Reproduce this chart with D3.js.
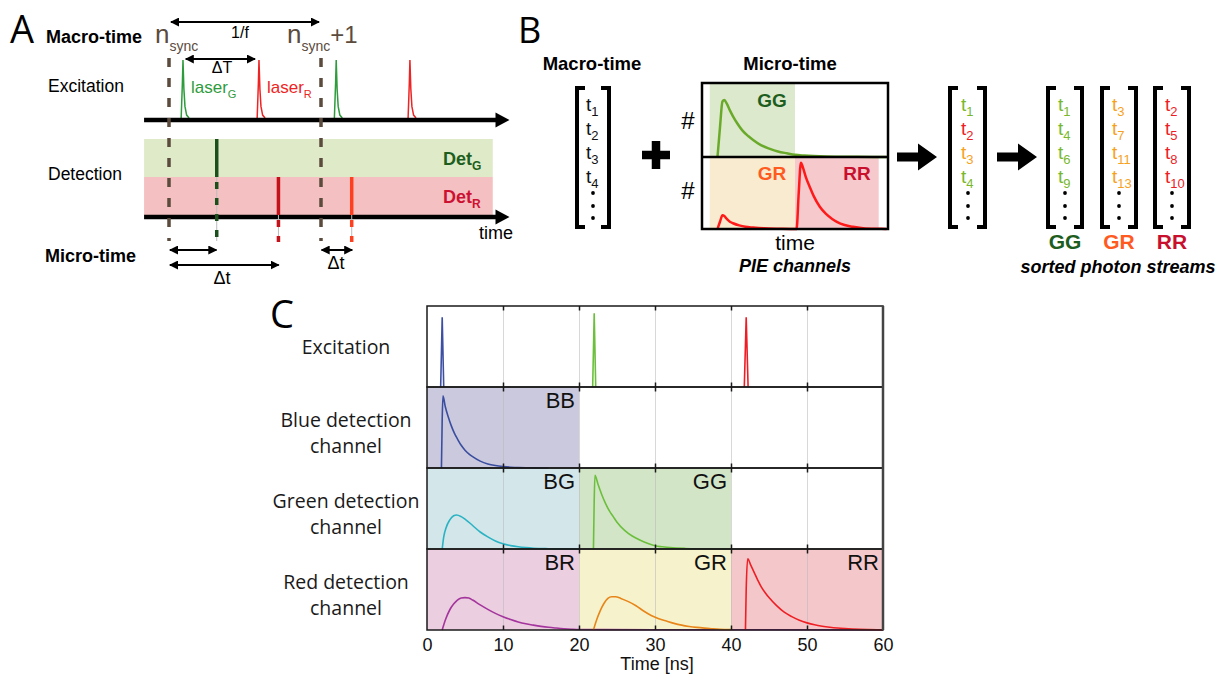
<!DOCTYPE html>
<html>
<head>
<meta charset="utf-8">
<script src="https://cdn.jsdelivr.net/npm/d3@7"></script>
<style>
  body { margin: 0; background: #fff; }
  svg { display: block; }
</style>
</head>
<body>
<div id="main"></div>
<script>
// ==============================================================
// DATA
// ==============================================================
// panel A, in units of the sync period (n_sync = 0, n_sync+1 = 100)
const syncMarks = [0, 100];
const laserPulses = [
  { t: 9.2, laser: "G" }, { t: 59.2, laser: "R" },
  { t: 110, laser: "G" }, { t: 158.5, laser: "R" }
];
const pulseShape = [[-1.2, 0], [-0.4, 0.6], [0, 1], [0.6, 0.5], [1.3, 0.2], [2.4, 0.05], [4, 0]];
const photons = [
  { t: 31.4, det: "G" }, { t: 72, det: "R" }, { t: 120.2, det: "R2" }
];
const periodArrow = [1.3, 98.7];
const delayArrow = [11, 56.6];
const microArrows = [[0.6, 31.2, 250], [0.6, 72.2, 265], [100.4, 120.6, 250]];

// panel B, photon streams
const macroStream = ["1", "2", "3", "4"];
const mixedStream = ["1", "2", "3", "4"];
const mixedChannels = ["GG", "RR", "GR", "GG"];
const streamGG = ["1", "4", "6", "9"];
const streamGR = ["3", "7", "11", "13"];
const streamRR = ["2", "5", "8", "10"];
// panel B, micro-time sketch (time 0..60, normalised counts)
const pieRegionsB = [
  { row: 0, from: 2.5, to: 30, name: "GG" },
  { row: 1, from: 2.5, to: 30, name: "GR" },
  { row: 1, from: 30, to: 57, name: "RR" }
];
const sketchGreen = [[5, 0], [5.8, 0.4], [6.6, 0.75], [7.2, 0.77], [8, 0.72], [9, 0.63], [10, 0.55],
  [11.3, 0.46], [13, 0.36], [15, 0.28], [16.5, 0.23], [19, 0.16], [21.9, 0.11], [24.5, 0.075],
  [27.4, 0.05], [30, 0.03], [33, 0.02], [40, 0.008], [50, 0.003], [59.5, 0]];
const sketchRed = [[5, 0], [5.8, 0.1], [6.6, 0.19], [7.2, 0.18], [8, 0.14], [9, 0.1], [10, 0.08],
  [12, 0.05], [14, 0.03], [16.5, 0.02], [20, 0.01], [25, 0.004], [30.5, 0], [31.2, 0.5],
  [31.9, 0.92], [32.6, 0.85], [33.5, 0.72], [34.8, 0.58], [36, 0.46], [38, 0.31], [40, 0.21],
  [42, 0.14], [43.5, 0.1], [46, 0.055], [48.7, 0.03], [52, 0.012], [57, 0.003], [59.5, 0]];

// panel C
const cTicks = [0, 10, 20, 30, 40, 50, 60];
const cGrid = [10, 20, 30, 40, 50];
const rowLabels = [["Excitation"], ["Blue detection", "channel"],
  ["Green detection", "channel"], ["Red detection", "channel"]];
const cRegions = [
  { row: 1, from: 0, to: 20, name: "BB" },
  { row: 2, from: 0, to: 20, name: "BG" },
  { row: 2, from: 20, to: 40, name: "GG" },
  { row: 3, from: 0, to: 20, name: "BR" },
  { row: 3, from: 20, to: 40, name: "GR" },
  { row: 3, from: 40, to: 60, name: "RR" }
];
const excBlue = [[1.8, 0], [2.0, 0.86], [2.2, 0]];
const excGreen = [[21.8, 0], [22.0, 0.91], [22.2, 0]];
const excRed = [[41.75, 0], [42.0, 0.86], [42.25, 0]];
const decayBB = [[1.9, 0], [2.0, 0.6], [2.1, 0.89], [2.4, 0.76], [2.8, 0.63], [3.2, 0.52],
  [3.6, 0.43], [4.0, 0.36], [4.5, 0.28], [5.0, 0.22], [5.5, 0.175], [6.0, 0.14], [7.0, 0.085],
  [8.0, 0.05], [9.0, 0.03], [10, 0.018], [11, 0.01], [12, 0.005], [14, 0.002], [16, 0]];
const decayBG = [[2.0, 0], [2.2, 0.15], [2.5, 0.26], [3.0, 0.36], [3.5, 0.41], [3.9, 0.42],
  [4.5, 0.4], [5.0, 0.37], [6.0, 0.29], [7.0, 0.21], [8.0, 0.15], [9.0, 0.1], [10, 0.065],
  [11, 0.042], [12, 0.027], [13, 0.017], [14, 0.01], [16, 0.004], [18, 0.001], [20, 0]];
const decayGG = [[21.9, 0], [22.0, 0.6], [22.1, 0.91], [22.5, 0.8], [23, 0.67], [23.5, 0.56],
  [24, 0.47], [24.5, 0.4], [25, 0.33], [26, 0.23], [27, 0.16], [28, 0.11], [29, 0.07],
  [30, 0.04], [31, 0.027], [32, 0.017], [34, 0.007], [36, 0.003], [40, 0]];
const decayBR = [[2.0, 0], [2.4, 0.12], [3.0, 0.25], [3.5, 0.32], [4.0, 0.37], [4.5, 0.395],
  [5.0, 0.4], [5.5, 0.395], [6.0, 0.37], [7.0, 0.31], [8.0, 0.255], [9.0, 0.205], [10, 0.165],
  [11, 0.13], [12, 0.1], [13, 0.077], [14, 0.06], [15, 0.045], [16, 0.033], [17, 0.024],
  [18, 0.016], [19, 0.01], [20, 0.006], [30, 0.003], [60, 0.002]];
const decayGR = [[21.9, 0], [22.3, 0.12], [22.8, 0.24], [23.3, 0.33], [23.8, 0.39], [24.3, 0.41],
  [24.8, 0.41], [25.5, 0.39], [26.5, 0.35], [27.5, 0.3], [28.5, 0.235], [29.5, 0.18],
  [30.5, 0.14], [31.5, 0.11], [32.5, 0.082], [33.5, 0.06], [34.5, 0.044], [35.5, 0.032],
  [36.5, 0.023], [37.5, 0.016], [38.5, 0.01], [40, 0.006]];
const decayRR = [[41.9, 0], [42.0, 0.5], [42.2, 0.88], [42.6, 0.8], [43.0, 0.72], [43.5, 0.62],
  [44, 0.53], [44.5, 0.46], [45, 0.4], [46, 0.3], [47, 0.22], [48, 0.165], [49, 0.12],
  [50, 0.088], [51, 0.064], [52, 0.047], [53, 0.034], [54, 0.024], [55, 0.017], [56, 0.012],
  [58, 0.006], [60, 0.003]];

// ==============================================================
// STYLES
// ==============================================================
const arial = "Arial, 'Liberation Sans', sans-serif";
const humanist = "'Open Sans', 'Noto Sans', sans-serif";
const brown = "#5b4b3d";
const tColor = { GG: "#79b82c", GR: "#f6a21e", RR: "#ee1c25" };
const labelColor = { GG: "#1d5e20", GR: "#ff5a1f", RR: "#c8102e" };
const regionColorB = { GG: "#dde9cc", GR: "#f8ebcf", RR: "#f6c9cd" };
const regionColorC = { BB: "#cbc9dd", BG: "#d3e6ea", GG: "#d2e5c7", BR: "#ebcee0", GR: "#f6f3cc", RR: "#f4c8ca" };

const svg = d3.select("#main").append("svg")
  .attr("width", 1228).attr("height", 675);
svg.append("rect").attr("width", 1228).attr("height", 675).attr("fill", "#fff");

const defs = svg.append("defs");
defs.append("marker").attr("id", "ah")
  .attr("viewBox", "0 0 10 10").attr("refX", 9).attr("refY", 5)
  .attr("markerWidth", 4.5).attr("markerHeight", 4.5)
  .attr("orient", "auto-start-reverse")
  .append("path").attr("d", "M0,0L10,5L0,10z").attr("fill", "#000");

function txt(g, x, y, s, font, fill, anchor) {
  return g.append("text").attr("x", x).attr("y", y)
    .attr("text-anchor", anchor || "start")
    .style("font", font).attr("fill", fill || "#000").text(s);
}

// main text + subscript
function subTxt(g, x, y, main, sub, font, subFont, fill, anchor, dy) {
  const t = g.append("text").attr("x", x).attr("y", y)
    .attr("text-anchor", anchor || "start").attr("fill", fill || "#000");
  t.append("tspan").style("font", font).text(main);
  t.append("tspan").style("font", subFont).attr("dy", dy || 5).text(sub);
  return t;
}

function dblArrow(g, x0, x1, y) {
  g.append("line").attr("x1", x0).attr("x2", x1).attr("y1", y).attr("y2", y)
    .attr("stroke", "#000").attr("stroke-width", 2)
    .attr("marker-start", "url(#ah)").attr("marker-end", "url(#ah)");
}

function axisArrow(g, x0, x1, y) {
  g.append("line").attr("x1", x0).attr("x2", x1 - 10).attr("y1", y).attr("y2", y)
    .attr("stroke", "#000").attr("stroke-width", 4.5);
  g.append("path").attr("d", `M${x1 - 14},${y - 7.5}L${x1},${y}L${x1 - 14},${y + 7.5}Z`).attr("fill", "#000");
}

// ==============================================================
// PANEL A
// ==============================================================
const A = svg.append("g");
const ax = d3.scaleLinear().domain([0, 100]).range([169, 321]);
const pulseY = d3.scaleLinear().domain([0, 1]).range([118, 60]);

txt(A, 10, 43, "A", "38px " + humanist, "#000");
txt(A, 46, 43, "Macro-time", "bold 18px " + arial);
txt(A, 48, 92, "Excitation", "17.5px " + arial);
txt(A, 48, 180, "Detection", "17.5px " + arial);
txt(A, 45, 262, "Micro-time", "bold 18px " + arial);

// detection bands
A.append("rect").attr("x", ax(-16.4)).attr("y", 139)
  .attr("width", ax(213) - ax(-16.4)).attr("height", 38).attr("fill", "#dfebc8");
A.append("rect").attr("x", ax(-16.4)).attr("y", 177)
  .attr("width", ax(213) - ax(-16.4)).attr("height", 38).attr("fill", "#f5c0c1");

// laser pulses
const pulseLine = d3.line();
laserPulses.forEach(p => {
  A.append("path")
    .attr("d", pulseLine(pulseShape.map(d => [ax(p.t + d[0]), pulseY(d[1])])))
    .attr("fill", "none")
    .attr("stroke", p.laser === "G" ? "#2e9b3c" : "#ee2424")
    .attr("stroke-width", 1.5);
});

axisArrow(A, ax(-16.4), ax(224), 120);
axisArrow(A, ax(-16.4), ax(224), 217);

// sync marks
syncMarks.forEach(t => {
  A.append("line").attr("x1", ax(t)).attr("x2", ax(t)).attr("y1", 58).attr("y2", 241)
    .attr("stroke", brown).attr("stroke-width", 3.5).attr("stroke-dasharray", "9,11");
});

// detected photons
const photonColor = { G: "#1b4f1c", R: "#c4121a", R2: "#ff4020" };
photons.forEach(p => {
  const y0 = p.det === "G" ? 139 : 177;
  const y1 = p.det === "G" ? 177 : 215;
  const x = ax(p.t);
  A.append("line").attr("x1", x).attr("x2", x).attr("y1", y1).attr("y2", 241)
    .attr("stroke", "#bbb").attr("stroke-width", 1);
  A.append("line").attr("x1", x).attr("x2", x).attr("y1", y0).attr("y2", y1)
    .attr("stroke", photonColor[p.det]).attr("stroke-width", 3.5);
  A.append("line").attr("x1", x).attr("x2", x).attr("y1", y1 + 5).attr("y2", 242)
    .attr("stroke", photonColor[p.det]).attr("stroke-width", 3.5).attr("stroke-dasharray", "7,9");
});

// macro-time labels
subTxt(A, ax(0) - 14, 43, "n", "sync", "26px " + arial, "14px " + arial, brown, "start", 8);
const ns1 = subTxt(A, ax(100) - 34, 43, "n", "sync", "26px " + arial, "14px " + arial, brown, "start", 8);
ns1.append("tspan").attr("dy", -8).style("font", "24px " + arial).text("+1");

dblArrow(A, ax(periodArrow[0]), ax(periodArrow[1]), 22);
txt(A, 240, 38, "1/f", "16px " + arial, "#000", "middle");
dblArrow(A, ax(delayArrow[0]), ax(delayArrow[1]), 59);
txt(A, 222, 73, "\u0394T", "16px " + arial, "#000", "middle");

subTxt(A, 191, 93, "laser", "G", "17px " + arial, "11px " + arial, "#2e9b3c", "start", 5);
subTxt(A, 267, 93, "laser", "R", "17px " + arial, "11px " + arial, "#ee2424", "start", 5);

subTxt(A, 443, 165, "Det", "G", "bold 18px " + arial, "bold 12px " + arial, "#1d5e20", "start", 5);
subTxt(A, 443, 203, "Det", "R", "bold 18px " + arial, "bold 12px " + arial, "#cc1133", "start", 5);
txt(A, 479, 239, "time", "18px " + arial);

microArrows.forEach(m => dblArrow(A, ax(m[0]), ax(m[1]), m[2]));
txt(A, 222, 284, "\u0394t", "18px " + arial, "#000", "middle");
txt(A, 336, 269, "\u0394t", "18px " + arial, "#000", "middle");

// ==============================================================
// PANEL B
// ==============================================================
const B = svg.append("g");
txt(B, 518, 43, "B", "36px " + humanist);
txt(B, 592, 70, "Macro-time", "bold 18.5px " + arial, "#000", "middle");
txt(B, 790, 70, "Micro-time", "bold 18.5px " + arial, "#000", "middle");

function bracket(g, x0, x1, y0, y1) {
  g.append("path").attr("d", `M${x0 + 8},${y0}H${x0}V${y1}H${x0 + 8}`)
    .attr("fill", "none").attr("stroke", "#000").attr("stroke-width", 4);
  g.append("path").attr("d", `M${x1 - 8},${y0}H${x1}V${y1}H${x1 - 8}`)
    .attr("fill", "none").attr("stroke", "#000").attr("stroke-width", 4);
}

// column vector of t_i, centred on cx
function tColumn(g, cx, items, colors) {
  items.forEach((s, i) => {
    subTxt(g, cx - 6, 111 + i * 24, "t", s, "19px " + arial, "13px " + arial, colors[i], "start", 5);
  });
  [193, 206, 218].forEach(y => {
    g.append("circle").attr("cx", cx + 1).attr("cy", y).attr("r", 1.9).attr("fill", "#000");
  });
}

bracket(B, 577, 609, 88, 227);
tColumn(B, 592, macroStream, macroStream.map(() => "#111"));

// plus sign
B.append("path").attr("d", "M642,155H670M656,141V169")
  .attr("stroke", "#000").attr("stroke-width", 8.5);

// micro-time sketch
const bx = d3.scaleLinear().domain([0, 60]).range([702, 888]);
const byRow = [
  d3.scaleLinear().domain([0, 1]).range([157, 83]),
  d3.scaleLinear().domain([0, 1]).range([229, 157])
];
pieRegionsB.forEach(r => {
  B.append("rect").attr("x", bx(r.from)).attr("width", bx(r.to) - bx(r.from))
    .attr("y", byRow[r.row](1)).attr("height", byRow[r.row](0) - byRow[r.row](1))
    .attr("fill", regionColorB[r.name]);
});
B.append("path")
  .attr("d", d3.line().x(d => bx(d[0])).y(d => byRow[0](d[1])).curve(d3.curveMonotoneX)(sketchGreen))
  .attr("fill", "none").attr("stroke", "#6aaa2a").attr("stroke-width", 2.5);
B.append("path")
  .attr("d", d3.line().x(d => bx(d[0])).y(d => byRow[1](d[1])).curve(d3.curveMonotoneX)(sketchRed))
  .attr("fill", "none").attr("stroke", "#ff1a1a").attr("stroke-width", 2.5);
B.append("rect").attr("x", 702).attr("y", 83).attr("width", 186).attr("height", 146)
  .attr("fill", "none").attr("stroke", "#000").attr("stroke-width", 2.5);
B.append("line").attr("x1", 702).attr("x2", 888).attr("y1", 157).attr("y2", 157)
  .attr("stroke", "#000").attr("stroke-width", 2.5);
pieRegionsB.forEach(r => {
  txt(B, r.name === "RR" ? 857 : 772, r.row === 0 ? 107 : 180, r.name,
    "bold 19px " + arial, labelColor[r.name], "middle");
});
txt(B, 688, 129, "#", "24px " + arial, "#000", "middle");
txt(B, 688, 199, "#", "24px " + arial, "#000", "middle");
txt(B, 795, 250, "time", "21px " + arial, "#000", "middle");
txt(B, 795, 272, "PIE channels", "italic bold 18px " + arial, "#000", "middle");

// block arrows
function blockArrow(g, x0, x1, y) {
  g.append("path")
    .attr("d", `M${x0},${y - 4.5}H${x1 - 19}V${y - 13.5}L${x1},${y}L${x1 - 19},${y + 13.5}V${y + 4.5}H${x0}Z`)
    .attr("fill", "#000");
}
blockArrow(B, 897, 937, 157);
blockArrow(B, 997, 1037, 157);

bracket(B, 950, 985, 88, 227);
tColumn(B, 967, mixedStream, mixedChannels.map(c => tColor[c]));

[["GG", streamGG, 1064], ["GR", streamGR, 1118], ["RR", streamRR, 1171]].forEach(s => {
  bracket(B, s[2] - 16, s[2] + 18, 88, 227);
  tColumn(B, s[2], s[1], s[1].map(() => tColor[s[0]]));
  txt(B, s[2] + 1, 249, s[0], "bold 21px " + arial, labelColor[s[0]], "middle");
});
txt(B, 1118, 273, "sorted photon streams", "italic bold 18px " + arial, "#000", "middle");

// ==============================================================
// PANEL C
// ==============================================================
const C = svg.append("g");
const cx = d3.scaleLinear().domain([0, 60]).range([427, 883]);
const rowH = 81;
const rowTop = i => 306 + i * rowH;
const cy = i => d3.scaleLinear().domain([0, 1]).range([rowTop(i) + rowH, rowTop(i)]);

txt(C, 270, 328, "C", "38px " + humanist);

// region fills
cRegions.forEach(r => {
  C.append("rect").attr("x", cx(r.from)).attr("width", cx(r.to) - cx(r.from))
    .attr("y", rowTop(r.row)).attr("height", rowH).attr("fill", regionColorC[r.name]);
});

// light grid
for (let i = 0; i < 4; i++) {
  C.append("g").attr("transform", `translate(0,${rowTop(i) + rowH})`)
    .call(d3.axisBottom(cx).tickValues(cGrid).tickSize(-rowH).tickFormat(""))
    .call(g => g.select(".domain").remove())
    .call(g => g.selectAll("line").attr("stroke", "#b8b8b8").attr("stroke-opacity", 0.55));
}

// curves
const cCurves = [
  { row: 0, data: excBlue, color: "#3d4fa3", curve: d3.curveLinear },
  { row: 0, data: excGreen, color: "#6cbf3c", curve: d3.curveLinear },
  { row: 0, data: excRed, color: "#ee1c24", curve: d3.curveLinear },
  { row: 1, data: decayBB, color: "#3a4ea0", curve: d3.curveMonotoneX },
  { row: 2, data: decayBG, color: "#2bb3c3", curve: d3.curveMonotoneX },
  { row: 2, data: decayGG, color: "#6cbf3c", curve: d3.curveMonotoneX },
  { row: 3, data: decayBR, color: "#a4359d", curve: d3.curveMonotoneX },
  { row: 3, data: decayGR, color: "#e8851a", curve: d3.curveMonotoneX },
  { row: 3, data: decayRR, color: "#ee1f24", curve: d3.curveMonotoneX }
];
cCurves.forEach(c => {
  const y = cy(c.row);
  C.append("path")
    .attr("d", d3.line().x(d => cx(d[0])).y(d => y(d[1])).curve(c.curve)(c.data))
    .attr("fill", "none").attr("stroke", c.color).attr("stroke-width", 1.6);
});

// frames and inward ticks
for (let i = 0; i < 4; i++) {
  C.append("rect").attr("x", cx(0)).attr("y", rowTop(i))
    .attr("width", cx(60) - cx(0)).attr("height", rowH)
    .attr("fill", "none").attr("stroke", "#1a1a1a").attr("stroke-width", 1.5);
  C.append("g").attr("transform", `translate(0,${rowTop(i)})`)
    .call(d3.axisTop(cx).tickValues(cGrid).tickSize(-4.5).tickFormat(""))
    .call(g => g.select(".domain").remove())
    .call(g => g.selectAll("line").attr("stroke", "#1a1a1a").attr("stroke-width", 1.5));
  C.append("g").attr("transform", `translate(0,${rowTop(i) + rowH})`)
    .call(d3.axisBottom(cx).tickValues(cGrid).tickSize(-4.5).tickFormat(""))
    .call(g => g.select(".domain").remove())
    .call(g => g.selectAll("line").attr("stroke", "#1a1a1a").attr("stroke-width", 1.5));
}
C.append("line").attr("x1", cx(60)).attr("x2", cx(60)).attr("y1", rowTop(0)).attr("y2", rowTop(4))
  .attr("stroke", "#444").attr("stroke-width", 2.5);

// region labels
cRegions.forEach(r => {
  txt(C, cx(r.to) - 4, rowTop(r.row) + 21, r.name, "22px " + arial, "#111", "end");
});

// row labels
rowLabels.forEach((lines, i) => {
  const mid = rowTop(i) + rowH / 2;
  if (lines.length === 1) {
    txt(C, 346, mid + 7, lines[0], "19.5px " + humanist, "#1a1a1a", "middle");
  } else {
    txt(C, 346, mid - 1, lines[0], "19.5px " + humanist, "#1a1a1a", "middle");
    txt(C, 346, mid + 25, lines[1], "19.5px " + humanist, "#1a1a1a", "middle");
  }
});

// bottom axis
C.append("g").attr("transform", `translate(0,${rowTop(4)})`)
  .call(d3.axisBottom(cx).tickValues(cTicks).tickSize(0).tickPadding(8))
  .call(g => g.select(".domain").remove())
  .call(g => g.selectAll("text").style("font", "18px " + arial).attr("fill", "#111"));
txt(C, 657, 670, "Time [ns]", "18px " + arial, "#111", "middle");
</script>
</body>
</html>
